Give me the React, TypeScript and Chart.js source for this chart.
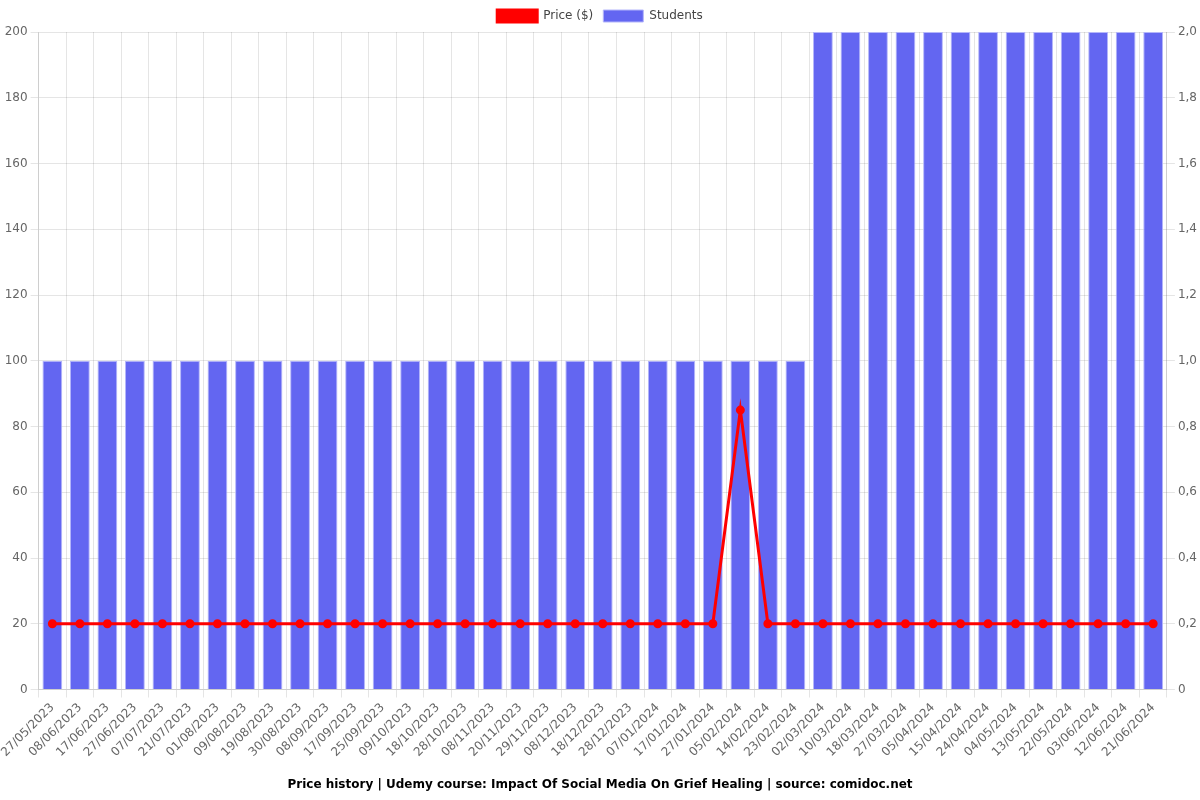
import React, { useEffect, useRef } from "react";
import { Chart, registerables } from "chart.js";

Chart.register(...registerables);

const dates = [
  "27/05/2023", "08/06/2023", "17/06/2023", "27/06/2023", "07/07/2023", "21/07/2023",
  "01/08/2023", "09/08/2023", "19/08/2023", "30/08/2023", "08/09/2023", "17/09/2023",
  "25/09/2023", "09/10/2023", "18/10/2023", "28/10/2023", "08/11/2023", "20/11/2023",
  "29/11/2023", "08/12/2023", "18/12/2023", "28/12/2023", "07/01/2024", "17/01/2024",
  "27/01/2024", "05/02/2024", "14/02/2024", "23/02/2024", "02/03/2024", "10/03/2024",
  "18/03/2024", "27/03/2024", "05/04/2024", "15/04/2024", "24/04/2024", "04/05/2024",
  "13/05/2024", "22/05/2024", "03/06/2024", "12/06/2024", "21/06/2024",
];

const prices = [
  19.99, 19.99, 19.99, 19.99, 19.99, 19.99, 19.99, 19.99, 19.99, 19.99, 19.99, 19.99,
  19.99, 19.99, 19.99, 19.99, 19.99, 19.99, 19.99, 19.99, 19.99, 19.99, 19.99, 19.99,
  19.99, 84.99, 19.99, 19.99, 19.99, 19.99, 19.99, 19.99, 19.99, 19.99, 19.99, 19.99,
  19.99, 19.99, 19.99, 19.99, 19.99,
];

const students = [
  1, 1, 1, 1, 1, 1, 1, 1, 1, 1, 1, 1, 1, 1, 1, 1, 1, 1, 1, 1, 1, 1, 1, 1, 1, 1, 1, 1,
  2, 2, 2, 2, 2, 2, 2, 2, 2, 2, 2, 2, 2,
];

const titleText =
  "Price history | Udemy course: Impact Of Social Media On Grief Healing | source: comidoc.net";

export default function App() {
  const ref = useRef<HTMLCanvasElement | null>(null);

  useEffect(() => {
    if (!ref.current) return;
    Chart.defaults.font.family = "'DejaVu Sans', sans-serif";
    Chart.defaults.font.size = 12;
    Chart.defaults.color = "#666";
    const chart = new Chart(ref.current, {
      type: "bar",
      data: {
        labels: dates,
        datasets: [
          {
            type: "line",
            label: "Price ($)",
            data: prices,
            borderColor: "rgb(255,0,0)",
            backgroundColor: "rgb(255,0,0)",
            borderWidth: 3,
            pointRadius: 3,
            pointBackgroundColor: "rgb(255,0,0)",
            tension: 0,
            yAxisID: "y",
          },
          {
            type: "bar",
            label: "Students",
            data: students,
            backgroundColor: "rgb(99,102,241)",
            borderColor: "rgba(180,182,250,1)",
            borderWidth: 1,
            yAxisID: "y1",
          },
        ],
      },
      options: {
        animation: false,
        responsive: true,
        maintainAspectRatio: false,
        locale: "de-DE",
        plugins: {
          legend: {
            position: "top",
            labels: { boxWidth: 40, boxHeight: 12, color: "#444" },
          },
          title: {
            display: true,
            text: titleText,
            position: "bottom",
            color: "#000",
            font: { size: 12, weight: "bold" },
            padding: { top: 15, bottom: 8 },
          },
        },
        scales: {
          x: {
            ticks: { autoSkip: false, minRotation: 45, maxRotation: 45 },
            grid: { color: "rgba(0,0,0,0.1)" },
          },
          y: {
            position: "left",
            min: 0,
            max: 200,
            ticks: { stepSize: 20 },
            grid: { color: "rgba(0,0,0,0.1)" },
          },
          y1: {
            position: "right",
            min: 0,
            max: 2,
            ticks: { stepSize: 0.2 },
            grid: { drawOnChartArea: false },
          },
        },
      },
    });
    return () => chart.destroy();
  }, []);

  return (
    <div style={{ position: "fixed", left: 0, top: 0, width: 1200, height: 800, background: "#fff" }}>
      <canvas ref={ref} />
    </div>
  );
}
